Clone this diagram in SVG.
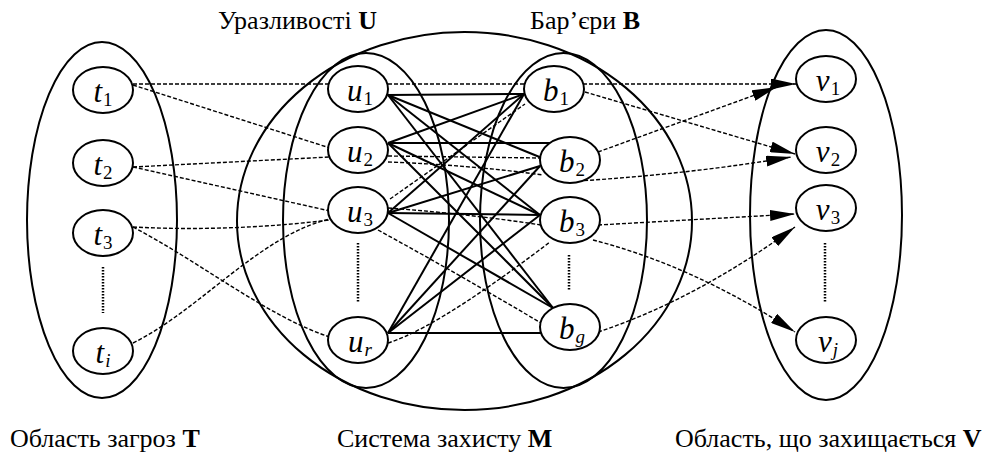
<svg xmlns="http://www.w3.org/2000/svg" width="992" height="453" viewBox="0 0 992 453">
<defs>
<style>
.cl{fill:none;stroke:#000;stroke-width:2}
.nd ellipse{fill:#fff;stroke:#000;stroke-width:2}
.s{stroke:#000;stroke-width:2;fill:none}
.d{stroke:#000;stroke-width:1.4;stroke-dasharray:4 2;fill:none}
.a{marker-end:url(#arr)}
.dot{stroke:#000;stroke-width:2.5;stroke-dasharray:1.5 1.5}
text.n{font-family:"Liberation Serif","Times New Roman",serif;font-size:31px;font-style:italic;text-anchor:middle}
.sub{font-size:19px;font-style:normal}
.subi{font-size:19px;font-style:italic}
text.l{font-family:"Liberation Serif","Times New Roman",serif;font-size:26px}
.b{font-weight:bold}
</style>
<marker id="arr" markerUnits="userSpaceOnUse" viewBox="0 0 25 11" refX="25" refY="5.5" markerWidth="25" markerHeight="11" orient="auto">
<path d="M0,0 L25,5.5 L0,11 z" fill="#000"/>
</marker>
</defs>
<rect width="992" height="453" fill="#fff"/>

<g id="clusters">
<ellipse id="cluster-T" class="cl" cx="102" cy="220" rx="75" ry="178"/>
<ellipse id="cluster-M" class="cl" cx="464.5" cy="221" rx="227.5" ry="189"/>
<ellipse id="cluster-U" class="cl" cx="366" cy="220.5" rx="83" ry="167.5"/>
<ellipse id="cluster-B" class="cl" cx="563.5" cy="220.5" rx="83.5" ry="167.5"/>
<ellipse id="cluster-V" class="cl" cx="826" cy="215" rx="76" ry="185"/>
</g>

<g id="connectors">
<path class="s" d="M388,95 L524,94"/>
<path class="s" d="M388,95 L542,158"/>
<path class="s" d="M388,95 L540,215"/>
<path class="s" d="M388,95 L553,308"/>
<path class="s" d="M388,143 L524,94"/>
<path class="s" d="M388,143 L551,143"/>
<path class="s" d="M388,143 L540,215"/>
<path class="s" d="M388,143 L553,308"/>
<path class="s" d="M388,213 L524,94"/>
<path class="s" d="M388,213 L540,166"/>
<path class="s" d="M388,213 L540,215"/>
<path class="s" d="M388,213 L553,308"/>
<path class="s" d="M388,333 L524,94"/>
<path class="s" d="M388,333 L540,166"/>
<path class="s" d="M388,333 L540,215"/>
<path class="s" d="M388,333 L541,333"/>
<path class="d" d="M133,84 L329,84"/>
<path class="d" d="M133,85 L330,148"/>
<path class="d" d="M133,167 L330,157"/>
<path class="d" d="M133,167 L330,211"/>
<path class="d" d="M133,227 Q230,232 330,220"/>
<path class="d" d="M133,343 C200,310 260,235 330,219"/>
<path class="d" d="M133,227 C200,262 270,318 330,337"/>
<path class="d" d="M388,84 L524,84"/>
<path class="d" d="M388,156 L540,158"/>
<path class="d" d="M388,162 Q470,165 543,175"/>
<path class="d" d="M390,199 L525,104"/>
<path class="d" d="M388,208 Q470,214 541,225"/>
<path class="d" d="M388,343 C430,330 500,280 550,242"/>
<path class="d" d="M378,230 Q460,275 541,323"/>
<path class="d a" d="M583,84 L796,84"/>
<path class="d a" d="M585,92 L795,154"/>
<path class="d a" d="M598,152 L777,87"/>
<path class="d a" d="M578,181 Q690,174 791,157"/>
<path class="d a" d="M598,225 L795,214"/>
<path class="d a" d="M598,332 Q695,300 795,227"/>
<path class="d a" d="M593,240 Q694,266 795,332"/>
</g>

<g id="ellipses-dots">
<line class="dot" x1="103" y1="267" x2="103" y2="313"/>
<line class="dot" x1="358" y1="243" x2="358" y2="302"/>
<line class="dot" x1="569" y1="255" x2="569" y2="290"/>
<line class="dot" x1="825" y1="243" x2="825" y2="302"/>
</g>

<g id="t1" class="nd"><ellipse cx="103" cy="90" rx="30" ry="23"/><text class="n" x="103" y="102">t<tspan class="sub" dx="1" dy="4">1</tspan></text></g>
<g id="t2" class="nd"><ellipse cx="103" cy="163" rx="30" ry="23"/><text class="n" x="103" y="175">t<tspan class="sub" dx="1" dy="4">2</tspan></text></g>
<g id="t3" class="nd"><ellipse cx="103" cy="233" rx="30" ry="23"/><text class="n" x="103" y="245">t<tspan class="sub" dx="1" dy="4">3</tspan></text></g>
<g id="ti" class="nd"><ellipse cx="103" cy="351" rx="30" ry="23"/><text class="n" x="103" y="363">t<tspan class="subi" dx="1" dy="4">i</tspan></text></g>

<g id="u1" class="nd"><ellipse cx="358" cy="89" rx="30" ry="23"/><text class="n" x="360" y="101">u<tspan class="sub" dx="1" dy="4">1</tspan></text></g>
<g id="u2" class="nd"><ellipse cx="358" cy="150" rx="30" ry="23"/><text class="n" x="360" y="162">u<tspan class="sub" dx="1" dy="4">2</tspan></text></g>
<g id="u3" class="nd"><ellipse cx="358" cy="210" rx="30" ry="23"/><text class="n" x="360" y="222">u<tspan class="sub" dx="1" dy="4">3</tspan></text></g>
<g id="ur" class="nd"><ellipse cx="358" cy="340" rx="30" ry="23"/><text class="n" x="360" y="352">u<tspan class="subi" dx="1" dy="4">r</tspan></text></g>

<g id="b1" class="nd"><ellipse cx="554" cy="89" rx="30" ry="23"/><text class="n" x="556" y="101">b<tspan class="sub" dx="1" dy="4">1</tspan></text></g>
<g id="b2" class="nd"><ellipse cx="570" cy="160" rx="30" ry="23"/><text class="n" x="572" y="172">b<tspan class="sub" dx="1" dy="4">2</tspan></text></g>
<g id="b3" class="nd"><ellipse cx="570" cy="220" rx="30" ry="23"/><text class="n" x="572" y="232">b<tspan class="sub" dx="1" dy="4">3</tspan></text></g>
<g id="bg" class="nd"><ellipse cx="570" cy="327" rx="30" ry="23"/><text class="n" x="572" y="339">b<tspan class="subi" dx="1" dy="4">g</tspan></text></g>

<g id="v1" class="nd"><ellipse cx="826" cy="79" rx="30" ry="23"/><text class="n" x="828" y="91">v<tspan class="sub" dx="1" dy="4">1</tspan></text></g>
<g id="v2" class="nd"><ellipse cx="826" cy="150" rx="30" ry="23"/><text class="n" x="828" y="162">v<tspan class="sub" dx="1" dy="4">2</tspan></text></g>
<g id="v3" class="nd"><ellipse cx="826" cy="208" rx="30" ry="23"/><text class="n" x="828" y="220">v<tspan class="sub" dx="1" dy="4">3</tspan></text></g>
<g id="vj" class="nd"><ellipse cx="826" cy="340" rx="30" ry="23"/><text class="n" x="828" y="352">v<tspan class="subi" dx="1" dy="4">j</tspan></text></g>

<g id="labels">
<text class="l" x="218" y="29">Уразливості <tspan class="b">U</tspan></text>
<text class="l" x="530" y="29">Бар’єри <tspan class="b">B</tspan></text>
<text class="l" x="10" y="447">Область загроз <tspan class="b">T</tspan></text>
<text class="l" x="337" y="447">Система захисту <tspan class="b">M</tspan></text>
<text class="l" x="675" y="447">Область, що захищається <tspan class="b">V</tspan></text>
</g>
</svg>
